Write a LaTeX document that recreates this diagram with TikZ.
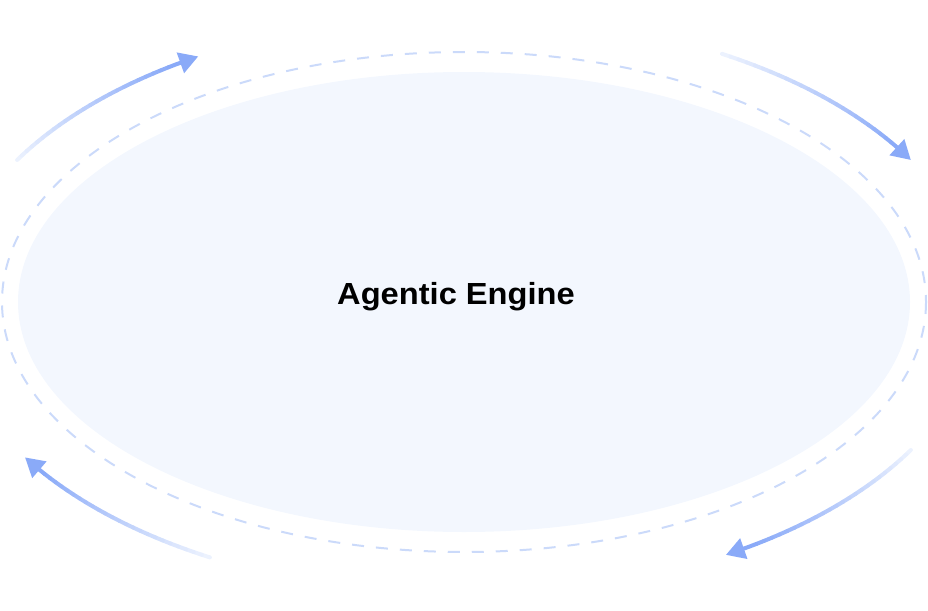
\documentclass[tikz,border=0pt]{standalone}
\usepackage{fontspec}
\setmainfont{Liberation Sans}
\usepackage{graphicx}
\usetikzlibrary{arrows.meta}
\definecolor{enginefill}{RGB}{243,247,254}
\definecolor{ringdash}{RGB}{203,218,250}
\definecolor{flowblue}{RGB}{138,170,248}
\definecolor{flowpale}{RGB}{236,242,254}

\begin{document}
\begin{tikzpicture}[x=1pt,y=-1pt,
  ring/.style={draw=ringdash, line width=2pt, dash pattern=on 12pt off 12pt},
  flowseg/.style={line width=4pt, line cap=round},
  flowtip/.style={-{Triangle[length=19pt,width=21pt]}, line width=4pt, draw=flowblue, fill=flowblue}]
  \useasboundingbox (0,0) rectangle (928,610);
  % Draw the engine body
  \fill[enginefill] (464,302) ellipse [x radius=446, y radius=230];
  % Draw the dashed ring
  \draw[ring] (464,302) ellipse [x radius=462, y radius=250];
  % Draw the four flow arrows (tail angle / tip angle), fading towards the tail
  \foreach \s/\e in {150/121, 60/30, -30/-59.5, -119.5/-148.3}{
    \pgfmathsetmacro{\h}{\e+0.1*(\s-\e)}
    \foreach \i in {0,...,24}{
      \pgfmathsetmacro{\mixpct}{100*\i/24}
      \draw[flowseg, draw=flowblue!\mixpct!flowpale]
        ({464+516*cos(\s+(\h-\s)*\i/25)},{305-290*sin(\s+(\h-\s)*\i/25)}) --
        ({464+516*cos(\s+(\h-\s)*(\i+1)/25)},{305-290*sin(\s+(\h-\s)*(\i+1)/25)});
    }
    \draw[flowtip] ({464+516*cos(\h)},{305-290*sin(\h)}) -- ({464+516*cos(\e)},{305-290*sin(\e)}); % Head
  }
  % Add the label
  \node[anchor=base, inner sep=0] (engine) at (456,304.5) {\scalebox{1.07}[1]{\fontsize{30.5}{36}\selectfont\bfseries Agentic Engine}};
\end{tikzpicture}
\end{document}
